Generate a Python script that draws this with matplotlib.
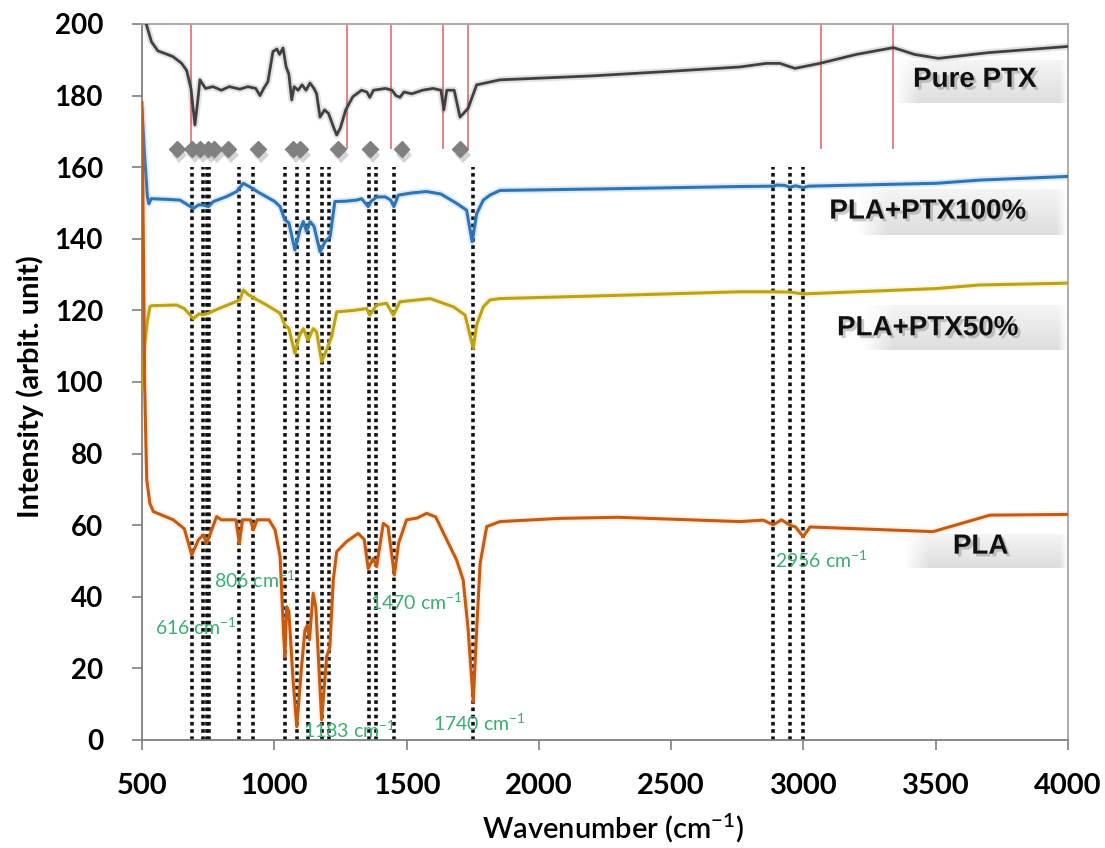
import numpy as np
import matplotlib
matplotlib.use("Agg")
import matplotlib.pyplot as plt
import matplotlib.patheffects as pe

plt.rcParams['mathtext.default'] = 'regular'

# ---------------- data ----------------
ptx_w = [505, 518, 536, 560, 617, 650, 669, 685, 700, 710, 719, 740, 768, 800, 830, 870, 900, 930, 946, 960,
         976, 995, 1010, 1020, 1033, 1045, 1055, 1066, 1075, 1090, 1105, 1120, 1135, 1150, 1160, 1173, 1190,
         1205, 1225, 1236, 1250, 1270, 1297, 1330, 1350, 1361, 1375, 1420, 1445, 1460, 1475, 1490, 1520, 1560,
         1600, 1630, 1641, 1652, 1680, 1702, 1715, 1733, 1750, 1765, 1853, 2200, 2500, 2760, 2860, 2911, 2968,
         3062, 3200, 3340, 3420, 3510, 3700, 3995]
ptx_v = [203, 199.5, 195, 192.5, 190.9, 189, 187, 182, 171.8, 178, 184.4, 182, 182.5, 181.5, 182.5, 181.8, 182.5,
         182, 180, 182, 183.9, 192.3, 193, 191.5, 193.3, 188, 186, 178.8, 182.5, 181.5, 183, 181.5, 183.5, 182,
         180.5, 174, 176, 175, 171, 169, 171, 176, 179.7, 181.5, 181, 179.5, 181.5, 182, 181.5, 180, 179.5, 181,
         180.5, 181.5, 182, 181.5, 176, 181.5, 181.5, 174, 175, 176.5, 180, 183, 184.4, 185.5, 186.8, 188, 189,
         189, 187.6, 189, 191.5, 193.4, 191.5, 190.4, 192, 193.7]

p100_w = [500, 510, 520, 526, 535, 600, 644, 694, 715, 732, 751, 770, 820, 858, 883, 895, 908, 940, 971, 1000,
          1022, 1040, 1055, 1078, 1097, 1110, 1122, 1135, 1150, 1173, 1192, 1211, 1229, 1270, 1311, 1330, 1355,
          1365, 1387, 1420, 1440, 1452, 1469, 1520, 1576, 1630, 1689, 1727, 1748, 1765, 1790, 1815, 1853, 2300,
          2760, 2886, 2900, 2930, 2949, 2970, 2999, 3020, 3503, 3667, 3995]
p100_v = [176, 163, 152, 149.8, 151.2, 151, 150.8, 148.5, 149.5, 149.4, 149, 150.4, 151.8, 153.2, 155.5, 155,
          154.5, 153, 151.7, 150.5, 149, 145.3, 144.5, 136.9, 142.5, 144.8, 142, 144.8, 143.5, 136.4, 139.2,
          140.6, 150.4, 150.5, 150.8, 151.2, 149, 150.4, 151.7, 151.7, 150.8, 149, 152.2, 152.8, 153.2, 152.5,
          149.9, 148, 139.2, 147, 150.8, 152.2, 153.5, 154, 154.6, 154.7, 155, 154.9, 154.4, 154.8, 154.3, 154.7,
          155.5, 156.4, 157.4]

p50_w = [500, 510, 520, 530, 536, 631, 660, 694, 715, 730, 751, 790, 870, 883, 900, 927, 971, 1022, 1040, 1055,
         1078, 1095, 1110, 1128, 1147, 1160, 1179, 1198, 1217, 1236, 1300, 1349, 1361, 1387, 1424, 1450, 1475,
         1589, 1677, 1721, 1740, 1752, 1765, 1790, 1815, 1853, 2300, 2760, 2886, 2949, 2999, 3503, 3667, 3995]
p50_v = [98, 110, 117, 121, 121.3, 121.5, 120.5, 117.7, 119, 118.8, 119.2, 120.5, 122.9, 125.7, 124.5, 123.3,
         121.5, 119.2, 115.9, 115, 108, 113, 114.9, 111.7, 114.9, 114, 105.7, 109, 112.7, 119.6, 120, 120.5,
         118.7, 121.5, 122, 118.7, 122.4, 123.3, 121, 118.7, 113, 109.4, 116, 121, 122.9, 123.3, 124.2, 125.2,
         125.2, 125.1, 124.6, 126.1, 127.1, 127.6]

pla_w = [500, 505, 510, 515, 518, 530, 543, 618, 660, 688, 713, 732, 744, 755, 782, 800, 855, 868, 880, 910,
         921, 935, 980, 1003, 1022, 1035, 1040, 1047, 1055, 1071, 1085, 1103, 1116, 1125, 1133, 1147, 1157, 1179,
         1198, 1210, 1223, 1236, 1273, 1317, 1340, 1355, 1374, 1387, 1412, 1430, 1454, 1470, 1500, 1540, 1576,
         1610, 1689, 1714, 1733, 1752, 1765, 1778, 1803, 1853, 2080, 2300, 2760, 2848, 2886, 2917, 2949, 2970,
         2999, 3025, 3490, 3705, 3995]
pla_v = [178, 140, 100, 82, 72.6, 66, 63.8, 61.5, 59, 51.7, 55.9, 57.3, 54.9, 57, 62.4, 61.5, 61.5, 54.9, 61.5,
         61.5, 58.7, 61.5, 61.5, 58.7, 51.2, 30, 23.3, 37.2, 36, 16.8, 3.7, 20.4, 30.7, 32, 28, 41, 37, 5.6, 23.3,
         26, 44.7, 52.6, 55.4, 57.7, 56, 47.9, 50.7, 48.4, 60.5, 59.5, 46.1, 55, 61.5, 62, 63.3, 62.3, 50.3, 44.7,
         30.7, 10.7, 30.7, 49.3, 59.6, 61, 61.9, 62.2, 61, 61.4, 60.1, 61.5, 60, 59.5, 56.8, 59.5, 58.2, 62.8, 63]

ptx_ref_lines = [684, 1274, 1440, 1639, 1731, 3066, 3339]
marker_w = [631, 688, 719, 751, 772, 826, 939, 1071, 1097, 1241, 1361, 1481, 1702]
marker_level = 165
band_lines = [690, 732, 744, 754, 868, 921, 1040, 1085, 1126, 1179, 1208, 1357, 1384, 1454, 1752, 2886, 2949, 2999]

peak_labels = ["616 cm$^{-1}$", "806 cm$^{-1}$", "1183 cm$^{-1}$", "1470 cm$^{-1}$", "1740 cm$^{-1}$", "2956 cm$^{-1}$"]
peak_label_w = [549, 772, 1108, 1362, 1600, 2892]
peak_label_v = [31.6, 44.7, 2.8, 38.5, 4.7, 50.3]

series_names = ["Pure PTX", "PLA+PTX100%", "PLA+PTX50%", "PLA"]
name_w = [3648, 3470, 3470, 3670]
name_v = [184.4, 147.6, 115.0, 54.0]
box_w0 = [3338, 3200, 3220, 3380]
box_v = [(178, 190), (141, 153.6), (109, 121.5), (48, 57.3)]

xticks = [500, 1000, 1500, 2000, 2500, 3000, 3500, 4000]
yticks = [0, 20, 40, 60, 80, 100, 120, 140, 160, 180, 200]

# ---------------- figure ----------------
fig = plt.figure(figsize=(11.05, 8.48), dpi=100)
ax = fig.add_axes([0.1285, 0.1274, 0.838, 0.8443])
ax.set_xlim(500, 4000)
ax.set_ylim(0, 200)

# dashed band lines
for w in band_lines:
    ax.vlines(w, 0, 160, colors='#111111', linestyles=(0, (1, 1)), linewidth=2.6, zorder=2)

# red reference lines
for w in ptx_ref_lines:
    ax.vlines(w, 165, 200, colors='#e07070', linewidth=1.2, zorder=1)

def glow(c):
    return [pe.Stroke(linewidth=5, foreground=c, alpha=0.15), pe.Normal()]

ax.plot(ptx_w, ptx_v, color='#404040', lw=2.0, zorder=3, path_effects=glow('#404040'))
ax.plot(p100_w, p100_v, color='#2e75b6', lw=2.2, zorder=3, path_effects=glow('#2e75b6'))
ax.plot(p50_w, p50_v, color='#bca316', lw=2.2, zorder=3, path_effects=glow('#e0c020'))
ax.plot(pla_w, pla_v, color='#c55a11', lw=2.2, zorder=3, path_effects=glow('#f0a060'))

# diamonds
ax.plot(marker_w, [marker_level] * len(marker_w), linestyle='none', marker='D', markersize=8,
        color='#808080', markeredgecolor='#808080', zorder=4,
        path_effects=[pe.SimplePatchShadow(offset=(2, -4), shadow_rgbFace='#aaaaaa', alpha=0.5), pe.Normal()])

# peak labels
for t, w, v in zip(peak_labels, peak_label_w, peak_label_v):
    ax.text(w, v, t, color='#3aae70', fontsize=14, family=['Lato', 'DejaVu Sans'],
            ha='left', va='center', zorder=5)

# series name boxes with gradient shading
grad = np.zeros((50, 100, 4))
yy = np.linspace(0, 1, 50)[:, None]
xx = np.linspace(0, 1, 100)[None, :]
alpha = (0.3 + 0.7 * yy) * np.clip(xx / 0.15, 0, 1) * np.clip((1 - xx) / 0.05, 0, 1)
grad[..., 0] = 0.87
grad[..., 1] = 0.87
grad[..., 2] = 0.87
grad[..., 3] = alpha
for name, tw, tv, bx, (b0, b1) in zip(series_names, name_w, name_v, box_w0, box_v):
    ax.imshow(grad, extent=(bx, 4000, b0, b1), origin='upper', aspect='auto', zorder=1.5,
              interpolation='bilinear')
    ax.text(tw, tv, name, fontsize=20, fontweight='bold', family='Liberation Sans', color='#111111',
            ha='center', va='center', zorder=5,
            path_effects=[pe.SimplePatchShadow(offset=(2, -2), shadow_rgbFace='#888888', alpha=0.45),
                          pe.Normal()])

ax.set_xlim(500, 4000)
ax.set_ylim(0, 200)

# axes styling
for s in ['left', 'bottom']:
    ax.spines[s].set_color('#7f7f7f')
    ax.spines[s].set_linewidth(1.3)
for s in ['top', 'right']:
    ax.spines[s].set_color('#a6a6a6')
    ax.spines[s].set_linewidth(1.3)

ax.set_xticks(xticks)
ax.set_yticks(yticks)
ax.tick_params(axis='both', direction='out', length=7, width=1.2, color='#7f7f7f')
ax.tick_params(axis='y', pad=21)
ax.tick_params(axis='x', pad=17)
for lab in ax.get_xticklabels():
    lab.set_family('Lato'); lab.set_fontweight('bold'); lab.set_fontsize(21)
for lab in ax.get_yticklabels():
    lab.set_family('Lato'); lab.set_fontweight('bold'); lab.set_fontsize(20)

ax.set_xlabel('Wavenumber (cm$^{-1}$)', fontsize=21, family='Lato', fontweight='semibold')
ax.xaxis.set_label_coords(0.509, -0.123)
ax.xaxis.label.set_va('center')
ax.set_ylabel('Intensity (arbit. unit)', fontsize=21, family='Lato', fontweight='bold')
ax.yaxis.set_label_coords(-0.121, 0.493)
ax.yaxis.label.set_va('center')

fig.savefig('out.png', dpi=100)
